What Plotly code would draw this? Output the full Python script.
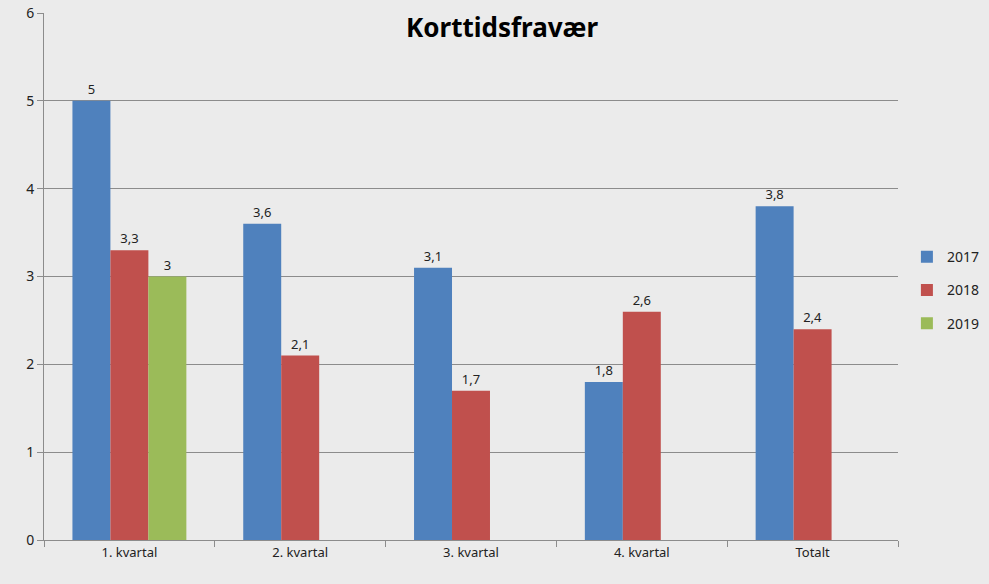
import plotly.graph_objects as go

categories = ["1. kvartal", "2. kvartal", "3. kvartal", "4. kvartal", "Totalt"]
years = ["2017", "2018", "2019"]
values_2017 = [5, 3.6, 3.1, 1.8, 3.8]
values_2018 = [3.3, 2.1, 1.7, 2.6, 2.4]
values_2019 = [3, None, None, None, None]

COLORS = {"2017": "#4F81BD", "2018": "#C0504D", "2019": "#9BBB59"}
FONT = "Noto Sans"

fig = go.Figure()
for year, vals in zip(years, [values_2017, values_2018, values_2019]):
    fig.add_trace(go.Bar(
        x=categories, y=vals, name=year, legendgroup=year,
        marker_color=COLORS[year], marker_line_width=0,
        texttemplate="%{y}", textposition="outside",
        textfont=dict(size=13, color="#222222"),
        cliponaxis=False,
    ))

fig.update_layout(
    barmode="group",
    bargap=0.333,
    bargroupgap=0,
    separators=", ",
    width=989, height=584,
    margin=dict(l=44, r=91, t=13, b=44, autoexpand=False),
    paper_bgcolor="#ebebeb",
    plot_bgcolor="rgba(0,0,0,0)",
    font=dict(family=FONT, size=13, color="#222222"),
    title=dict(text="<b>Korttidsfravær</b>", x=0.5076, xanchor="center",
               y=0.952, yanchor="middle",
               font=dict(family=FONT, size=26, color="#000000")),
    legend=dict(xref="container", x=0.917, y=0.474, xanchor="left", yanchor="middle",
                bgcolor="rgba(0,0,0,0)", font=dict(size=14, color="#222222"),
                itemwidth=30, tracegroupgap=12),
    showlegend=True,
)
fig.update_yaxes(range=[0, 6], dtick=1, showgrid=True, gridcolor="#8c8c8c",
                 gridwidth=1, showline=True, linecolor="#8c8c8c",
                 ticks="outside", ticklen=6, tickcolor="#8c8c8c",
                 zeroline=False, tickfont=dict(size=14), automargin=False)
fig.update_xaxes(showline=True, linecolor="#8c8c8c", ticks="outside",
                 tickson="boundaries", ticklen=6, tickcolor="#8c8c8c",
                 tickfont=dict(size=13), automargin=False)

# drop the default 8px body margin so the figure sits at the page corner
fig.write_html("out.html", config={"displayModeBar": False},
               post_script="document.body.style.margin='0';")
